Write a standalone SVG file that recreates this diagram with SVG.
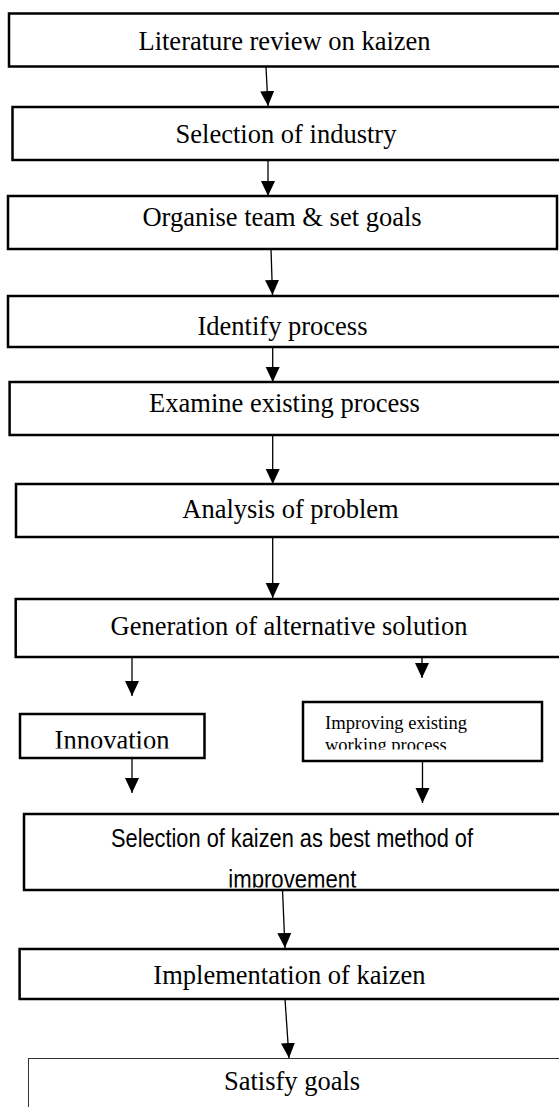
<svg xmlns="http://www.w3.org/2000/svg" width="559" height="1107" viewBox="0 0 559 1107">
<style>
.box{fill:#fff;stroke:#000;stroke-width:2.5}
.thin{fill:#fff;stroke:#333;stroke-width:1}
.t{font-family:"Liberation Serif","Times New Roman",serif;font-size:26.5px;fill:#000;text-anchor:middle}
.s{font-family:"Liberation Serif","Times New Roman",serif;font-size:18.5px;fill:#000}
.sans{font-family:"Liberation Sans",Arial,sans-serif;font-size:25px;fill:#000;text-anchor:middle}
.c{stroke:#000;stroke-width:1.3;fill:none;marker-end:url(#ah)}
</style>
<defs>
<marker id="ah" markerUnits="userSpaceOnUse" markerWidth="15" markerHeight="15" refX="15" refY="7" orient="auto" viewBox="0 0 15 14">
<path d="M0,0 L15,7 L0,14 z" fill="#000"/>
</marker>
<clipPath id="clipInn"><rect x="0" y="700" width="559" height="48.5"/></clipPath>
<clipPath id="clipImp"><rect x="0" y="700" width="559" height="49.5"/></clipPath>
<clipPath id="clipSel"><rect x="0" y="800" width="559" height="87.5"/></clipPath>
</defs>
<rect width="559" height="1107" fill="#fff"/>
<g id="connectors">
<line class="c" x1="266" y1="67" x2="268" y2="106"/>
<line class="c" x1="268" y1="160" x2="268" y2="196"/>
<line class="c" x1="271" y1="249" x2="272.5" y2="295"/>
<line class="c" x1="272.7" y1="347" x2="272.7" y2="382"/>
<line class="c" x1="272.7" y1="435" x2="272.7" y2="484"/>
<line class="c" x1="272.7" y1="537" x2="272.7" y2="598"/>
<line class="c" x1="132" y1="657" x2="132" y2="696"/>
<line class="c" x1="422" y1="657" x2="422" y2="678"/>
<line class="c" x1="132" y1="758" x2="132" y2="793"/>
<line class="c" x1="422.5" y1="761" x2="422.5" y2="803"/>
<line class="c" x1="282.5" y1="890" x2="285" y2="948"/>
<line class="c" x1="285" y1="999" x2="289" y2="1058"/>
</g>
<g id="n1"><rect class="box" x="9" y="13.5" width="552" height="53"/><text class="t" x="284.5" y="50">Literature review on kaizen</text></g>
<g id="n2"><rect class="box" x="12.5" y="107" width="548" height="53"/><text class="t" x="286" y="142.5">Selection of industry</text></g>
<g id="n3"><rect class="box" x="8" y="196" width="549" height="53"/><text class="t" x="282" y="226">Organise team &amp; set goals</text></g>
<g id="n4"><rect class="box" x="8" y="296" width="553" height="51"/><text class="t" x="282.5" y="335">Identify process</text></g>
<g id="n5"><rect class="box" x="9.6" y="382" width="552" height="53"/><text class="t" x="284.5" y="411.5">Examine existing process</text></g>
<g id="n6"><rect class="box" x="16" y="484" width="546" height="53"/><text class="t" x="290.5" y="517.5">Analysis of problem</text></g>
<g id="n7"><rect class="box" x="15.7" y="599" width="546" height="58"/><text class="t" x="289" y="634.5">Generation of alternative solution</text></g>
<g id="n8"><rect class="box" x="20" y="714" width="184.5" height="44"/><text class="t" x="112" y="749" clip-path="url(#clipInn)">Innovation</text></g>
<g id="n9"><rect class="box" x="303" y="702" width="239" height="59"/><text class="s" x="325" y="729" textLength="142" lengthAdjust="spacingAndGlyphs">Improving existing</text><text class="s" x="325" y="750.5" clip-path="url(#clipImp)">working process</text></g>
<g id="n10"><rect class="box" x="24" y="814" width="538" height="76"/><text class="sans" x="292" y="847" textLength="362" lengthAdjust="spacingAndGlyphs">Selection of kaizen as best method of</text><text class="sans" x="292.3" y="888" textLength="128" lengthAdjust="spacingAndGlyphs" clip-path="url(#clipSel)">improvement</text></g>
<g id="n11"><rect class="box" x="19.6" y="949" width="542" height="50"/><text class="t" x="289.5" y="983.5">Implementation of kaizen</text></g>
<g id="n12"><rect class="thin" x="28.5" y="1058.5" width="533" height="60"/><text class="t" x="292" y="1090">Satisfy goals</text></g>
</svg>
